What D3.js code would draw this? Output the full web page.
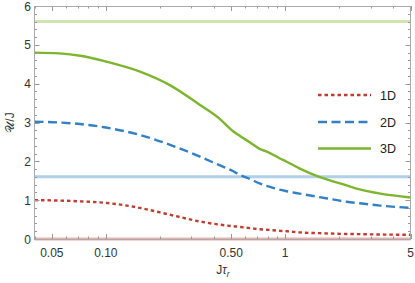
<!DOCTYPE html>
<html>
  <head>
    <meta charset="utf-8" />
    <title>U/J vs J tau_r</title>
    <script src="https://d3js.org/d3.v7.min.js"></script>
    <style>
      body { margin: 0; background: #fff; }
      svg { font-family: "Liberation Sans", Arial, sans-serif; }
      .tick-label { font-size: 12px; fill: #333; }
      .legend text { font-size: 12.5px; fill: #222; }
    </style>
  </head>
  <body>
    <svg width="415" height="283"></svg>
    <script>
      // data
      const tau = [0.04, 0.055, 0.072, 0.1, 0.155, 0.23, 0.335, 0.43, 0.51, 0.56, 0.64,
                   0.72, 0.79, 0.93, 1.02, 1.2, 1.55, 2.2, 2.6, 3.4, 5];
      const u1D = [1.0, 0.99, 0.97, 0.93, 0.8, 0.62, 0.45, 0.37, 0.33, 0.31, 0.28,
                   0.25, 0.24, 0.21, 0.2, 0.17, 0.15, 0.13, 0.125, 0.115, 0.11];
      const u2D = [3.02, 3.0, 2.96, 2.87, 2.68, 2.42, 2.12, 1.9, 1.75, 1.65, 1.54,
                   1.43, 1.37, 1.27, 1.23, 1.17, 1.08, 0.96, 0.92, 0.86, 0.8];
      const u3D = [4.8, 4.78, 4.72, 4.57, 4.31, 3.95, 3.45, 3.1, 2.78, 2.65, 2.48,
                   2.32, 2.25, 2.08, 1.99, 1.82, 1.6, 1.38, 1.28, 1.17, 1.07];
      const limits = [0, 1.6, 5.6];       // horizontal reference lines (1D, 2D, 3D)
      const seriesNames = ["1D", "2D", "3D"];
      const xMajor = [0.05, 0.1, 0.5, 1, 5];
      const xMajorLabels = ["0.05", "0.10", "0.50", "1", "5"];
      const yMajor = [0, 1, 2, 3, 4, 5, 6];

      const colors = ["#c23b30", "#3380c4", "#7db52e"];
      const lightColors = ["#ebb0ad", "#b0cfe9", "#d0e4b2"];
      const dashes = ["3.5,3", "9,4.5", null];

      const svg = d3.select("svg");
      const pLeft = 34.5, pRight = 410.5, pTop = 6, pBottom = 239;

      const x = d3.scaleLog().domain([0.04, 5]).range([pLeft, pRight]);
      const y = d3.scaleLinear().domain([0, 6]).range([pBottom, pTop]);

      const plot = svg.append("g");

      // minor x ticks
      const xMinor = [];
      [0.01, 0.1, 1].forEach(dec => {
        for (let k = 1; k <= 9; k++) {
          const v = dec * k;
          if (v >= 0.04 && v <= 5 && !xMajor.some(m => Math.abs(m - v) < 1e-9)) xMinor.push(v);
        }
      });
      const yMinor = d3.range(0, 6.01, 0.2).filter(v => Math.abs(v - Math.round(v)) > 1e-6);

      const tickColor = "#999";
      const ticks = svg.append("g").attr("stroke", tickColor).attr("stroke-width", 1);
      xMajor.forEach(v => {
        const px = Math.round(x(v)) + 0.5;
        ticks.append("line").attr("x1", px).attr("x2", px).attr("y1", pBottom).attr("y2", pBottom - 5);
        ticks.append("line").attr("x1", px).attr("x2", px).attr("y1", pTop).attr("y2", pTop + 5);
      });
      xMinor.forEach(v => {
        const px = Math.round(x(v)) + 0.5;
        ticks.append("line").attr("x1", px).attr("x2", px).attr("y1", pBottom).attr("y2", pBottom - 2.5);
        ticks.append("line").attr("x1", px).attr("x2", px).attr("y1", pTop).attr("y2", pTop + 2.5);
      });
      yMajor.forEach(v => {
        const py = Math.round(y(v)) + 0.5;
        ticks.append("line").attr("x1", pLeft).attr("x2", pLeft + 5).attr("y1", py).attr("y2", py);
        ticks.append("line").attr("x1", pRight).attr("x2", pRight - 5).attr("y1", py).attr("y2", py);
      });
      yMinor.forEach(v => {
        const py = Math.round(y(v)) + 0.5;
        ticks.append("line").attr("x1", pLeft).attr("x2", pLeft + 2.5).attr("y1", py).attr("y2", py);
        ticks.append("line").attr("x1", pRight).attr("x2", pRight - 2.5).attr("y1", py).attr("y2", py);
      });

      // horizontal limit lines
      limits.forEach((v, i) => {
        plot.append("line")
            .attr("x1", pLeft).attr("x2", pRight)
            .attr("y1", y(v)).attr("y2", y(v))
            .attr("stroke", lightColors[i]).attr("stroke-width", 3);
      });

      // curves
      const line = d3.line()
                     .x(d => x(d[0]))
                     .y(d => y(d[1]))
                     .curve(d3.curveMonotoneX);
      [u1D, u2D, u3D].forEach((vals, i) => {
        plot.append("path")
            .datum(tau.map((t, j) => [t, vals[j]]))
            .attr("d", line)
            .attr("fill", "none")
            .attr("stroke", colors[i])
            .attr("stroke-width", 2.4)
            .attr("stroke-dasharray", dashes[i]);
      });

      // frame
      svg.append("rect")
         .attr("x", pLeft).attr("y", pTop + 0.5)
         .attr("width", pRight - pLeft).attr("height", pBottom - pTop)
         .attr("fill", "none").attr("stroke", "#aaa").attr("stroke-width", 1);

      // tick labels
      xMajor.forEach((v, i) => {
        svg.append("text").attr("class", "tick-label")
           .attr("x", x(v)).attr("y", 257)
           .attr("text-anchor", "middle")
           .text(xMajorLabels[i]);
      });
      yMajor.forEach(v => {
        svg.append("text").attr("class", "tick-label")
           .attr("x", 31).attr("y", y(v) + 4.5)
           .attr("text-anchor", "end")
           .text(v);
      });

      // axis titles
      const xt = svg.append("text").attr("class", "tick-label")
                    .attr("x", 223).attr("y", 274).attr("text-anchor", "middle");
      xt.append("tspan").text("J");
      xt.append("tspan").attr("font-style", "italic").text("τ");
      xt.append("tspan").attr("font-style", "italic").attr("font-size", "8.5px").attr("dy", 3).text("r");

      svg.append("text").attr("class", "tick-label")
         .attr("font-size", "13px")
         .attr("transform", "translate(14," + (pTop + pBottom) / 2 + ") rotate(-90)")
         .attr("text-anchor", "middle")
         .text("𝒰/J");

      // legend
      const legend = svg.append("g").attr("class", "legend");
      const legY = [95, 122, 148.5];
      seriesNames.forEach((name, i) => {
        legend.append("line")
              .attr("x1", 318).attr("x2", 371)
              .attr("y1", legY[i]).attr("y2", legY[i])
              .attr("stroke", colors[i]).attr("stroke-width", 2.4)
              .attr("stroke-dasharray", dashes[i]);
        legend.append("text")
              .attr("x", 380).attr("y", legY[i] + 4.5)
              .text(name);
      });
    </script>
  </body>
</html>
